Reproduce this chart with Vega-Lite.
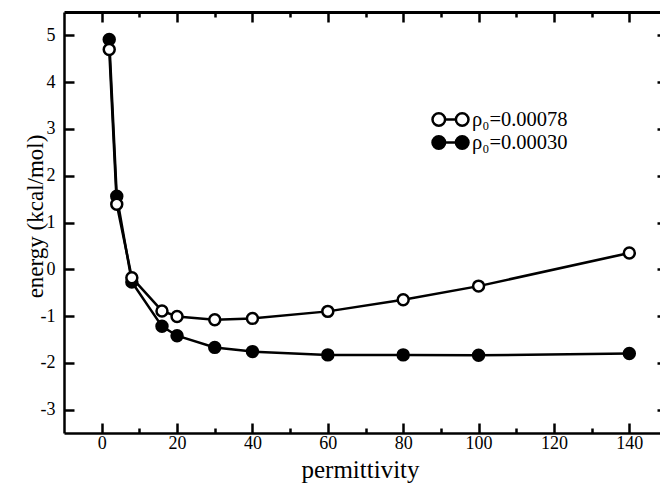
{
  "$schema": "https://vega.github.io/schema/vega-lite/v6.json",
  "autosize": "none",
  "width": 603,
  "height": 421,
  "padding": {"left": 64, "top": 12, "right": 0, "bottom": 50},
  "background": "white",
  "config": {
    "view": {"stroke": null},
    "font": "Liberation Serif",
    "axis": {
      "domainColor": "black",
      "domainWidth": 2.5,
      "tickColor": "black",
      "tickWidth": 2.5,
      "grid": false,
      "labelColor": "black",
      "titleColor": "black",
      "labelFont": "Liberation Serif",
      "titleFont": "Liberation Serif",
      "labelFontSize": 18,
      "titleFontSize": 25,
      "titleFontWeight": "normal"
    },
    "legend": {
      "labelFont": "Liberation Serif",
      "labelFontSize": 20.5,
      "labelColor": "black"
    }
  },
  "data": {
    "values": [
      {"permittivity": 2, "energy": 4.70, "series": "ρ₀=0.00078"},
      {"permittivity": 4, "energy": 1.39, "series": "ρ₀=0.00078"},
      {"permittivity": 8, "energy": -0.18, "series": "ρ₀=0.00078"},
      {"permittivity": 16, "energy": -0.89, "series": "ρ₀=0.00078"},
      {"permittivity": 20, "energy": -1.01, "series": "ρ₀=0.00078"},
      {"permittivity": 30, "energy": -1.08, "series": "ρ₀=0.00078"},
      {"permittivity": 40, "energy": -1.05, "series": "ρ₀=0.00078"},
      {"permittivity": 60, "energy": -0.90, "series": "ρ₀=0.00078"},
      {"permittivity": 80, "energy": -0.65, "series": "ρ₀=0.00078"},
      {"permittivity": 100, "energy": -0.36, "series": "ρ₀=0.00078"},
      {"permittivity": 140, "energy": 0.35, "series": "ρ₀=0.00078"},
      {"permittivity": 2, "energy": 4.91, "series": "ρ₀=0.00030"},
      {"permittivity": 4, "energy": 1.56, "series": "ρ₀=0.00030"},
      {"permittivity": 8, "energy": -0.27, "series": "ρ₀=0.00030"},
      {"permittivity": 16, "energy": -1.22, "series": "ρ₀=0.00030"},
      {"permittivity": 20, "energy": -1.42, "series": "ρ₀=0.00030"},
      {"permittivity": 30, "energy": -1.67, "series": "ρ₀=0.00030"},
      {"permittivity": 40, "energy": -1.76, "series": "ρ₀=0.00030"},
      {"permittivity": 60, "energy": -1.83, "series": "ρ₀=0.00030"},
      {"permittivity": 80, "energy": -1.83, "series": "ρ₀=0.00030"},
      {"permittivity": 100, "energy": -1.84, "series": "ρ₀=0.00030"},
      {"permittivity": 140, "energy": -1.80, "series": "ρ₀=0.00030"}
    ]
  },
  "resolve": {"axis": {"x": "independent", "y": "independent"}},
  "layer": [
    {
      "mark": {"type": "line", "color": "black", "strokeWidth": 2.5},
      "encoding": {
        "x": {
          "field": "permittivity", "type": "quantitative",
          "scale": {"domain": [-10, 150], "nice": false},
          "axis": {
            "orient": "bottom",
            "title": "permittivity",
            "titleFontSize": 25,
            "titleX": 296,
            "titleY": 44,
            "titleBaseline": "alphabetic",
            "values": [0, 10, 20, 30, 40, 50, 60, 70, 80, 90, 100, 110, 120, 130, 140],
            "labelExpr": "datum.value % 20 === 0 ? datum.label : ''",
            "tickSize": {"condition": {"test": "datum.value % 20 === 0", "value": -10}, "value": -5},
            "labelFont": "Liberation Serif",
            "labelFontSize": 18,
            "labelPadding": 11,
            "labelFlush": false,
            "labelOverlap": false
          }
        },
        "y": {
          "field": "energy", "type": "quantitative",
          "scale": {"domain": [-3.5, 5.5], "nice": false, "zero": false},
          "axis": {
            "orient": "left",
            "title": "energy (kcal/mol)",
            "titleFontSize": 23,
            "titleX": -17,
            "titleY": 204,
            "titleAngle": -90,
            "titleBaseline": "bottom",
            "titleAlign": "center",
            "values": [-3, -2, -1, 0, 1, 2, 3, 4, 5],
            "labelExpr": "datum.value + ''",
            "tickSize": -10,
            "labelFont": "Liberation Serif",
            "labelFontSize": 18,
            "labelPadding": 19,
            "labelFlush": false
          }
        },
        "detail": {"field": "series"}
      }
    },
    {
      "mark": {"type": "point", "shape": "circle", "filled": false, "stroke": "black", "strokeWidth": 2.5, "size": 120, "opacity": 1},
      "encoding": {
        "x": {
          "field": "permittivity", "type": "quantitative",
          "axis": {
            "orient": "top",
            "title": null,
            "labels": false,
            "domainWidth": 3,
            "values": [0, 10, 20, 30, 40, 50, 60, 70, 80, 90, 100, 110, 120, 130, 140],
            "tickSize": {"condition": {"test": "datum.value % 20 === 0", "value": -10}, "value": -5}
          }
        },
        "y": {
          "field": "energy", "type": "quantitative",
          "axis": {
            "orient": "right",
            "title": null,
            "labels": false,
            "values": [-3, -2, -1, 0, 1, 2, 3, 4, 5],
            "tickSize": -10
          }
        },
        "fill": {
          "field": "series", "type": "nominal",
          "scale": {"domain": ["ρ₀=0.00078", "ρ₀=0.00030"], "range": ["white", "black"]},
          "legend": {
            "title": null,
            "orient": "none",
            "legendX": 375,
            "legendY": 96,
            "padding": 0,
            "symbolType": "M-1.8,0A0.63,0.63 0 1,1 -0.54,0A0.63,0.63 0 1,1 -1.8,0M-0.54,0L0.54,0M0.54,0A0.63,0.63 0 1,1 1.8,0A0.63,0.63 0 1,1 0.54,0",
            "symbolSize": 400,
            "symbolStrokeColor": "black",
            "symbolStrokeWidth": 2.5,
            "rowPadding": 0,
            "labelOffset": 10,
            "labelFont": "Liberation Serif",
            "labelFontSize": 20.5
          }
        },
        "order": {"field": "series", "sort": "ascending"}
      }
    }
  ]
}
